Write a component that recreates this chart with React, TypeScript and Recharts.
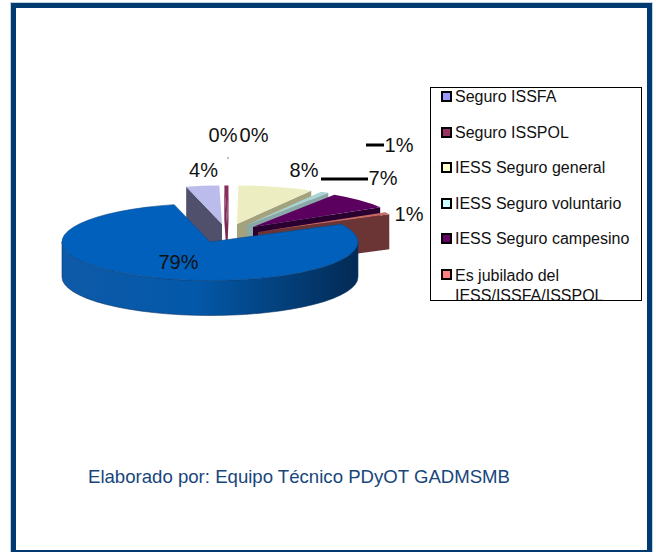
import React from 'react';
import { PieChart, Pie, Legend } from 'recharts';

const categories = [
  'Seguro ISSFA',
  'Seguro ISSPOL',
  'IESS Seguro general',
  'IESS Seguro voluntario',
  'IESS Seguro campesino',
  'Es jubilado del IESS/ISSFA/ISSPOL',
  'Otros',
  'Sin especificar',
];
const shares = [3.6, 0.45, 8.2, 0.9, 7.2, 0.9, 78.75, 0];

// legend swatches
const swatchColors = ['#9999ff', '#993366', '#ffffcc', '#ccffff', '#660066', '#ff8080', '#0066cc', '#ffffff'];
// shaded faces of the 3D look
const topColors = ['#bcbcec', '#8a2c5c', '#ecedc0', '#a8d4d4', '#5c0060', '#c46a60', '#0060bc', '#ffffff'];
const wallColors = ['#50506c', '#7a2a55', '#a3a27e', '#8aa8a8', '#2a0030', '#6b3535', '#0059ab', '#ffffff'];

// explosion of each slice, px from the pie centre
const explode = [
  [0, 2],
  [5, 2],
  [15, 2],
  [25, 3],
  [31, 5],
  [36, 10],
  [-12, 20],
  [0, 0],
];

const labelSpots = [
  [203.5, 170],
  [223, 135],
  [304, 170],
  [399, 145],
  [383, 178],
  [409, 214],
  [178.5, 262],
  [254, 135],
];
// leader lines: index -> x1, x2, y, thickness
const leaders: Record<number, number[]> = {
  1: [227.5, 228.5, 158, 1],
  3: [366, 384, 145, 3],
  4: [321, 368, 179, 3],
};

const data = categories.map((name, i) => ({ name, value: shares[i], fill: swatchColors[i], idx: i }));

const SQUASH = 38.5 / 148;
const DEPTH = 35;
const RAD = Math.PI / 180;

const FlatSlice = (props: any) => {
  const { cx, cy, outerRadius: rx, startAngle, endAngle } = props;
  const i = props.idx ?? props.payload?.idx ?? props.index;
  if (shares[i] === 0) return null;
  const [dx, dy] = explode[i];
  const ry = rx * SQUASH;
  const ox = cx + dx;
  const oy = cy + dy;
  const at = (a: number, drop = 0) => [ox + rx * Math.cos(a * RAD), oy - ry * Math.sin(a * RAD) + drop];
  const [sx, sy] = at(startAngle);
  const [ex, ey] = at(endAngle);
  const large = Math.abs(startAngle - endAngle) > 180 ? 1 : 0;
  const top = `M${ox},${oy} L${sx},${sy} A${rx},${ry} 0 ${large} 1 ${ex},${ey} Z`;
  const wall = (x: number, y: number) => `M${ox},${oy} L${x},${y} L${x},${y + DEPTH} L${ox},${oy + DEPTH} Z`;

  // the outer rim only shows on the front half of the ellipse
  const from = Math.min(startAngle, 0);
  const to = Math.max(endAngle, -180);
  let rim = null;
  if (from > to) {
    const [ax, ay] = at(from);
    const [bx, by] = at(to);
    const d = `M${ax},${ay} A${rx},${ry} 0 0 1 ${bx},${by} L${bx},${by + DEPTH} A${rx},${ry} 0 0 0 ${ax},${ay + DEPTH} Z`;
    rim = <path d={d} fill={`url(#rimShade)`} stroke="#0a3566" strokeWidth={0.6} />;
  }
  return (
    <g>
      <defs>
        <linearGradient id="rimShade" x1="0" y1="0" x2="1" y2="0">
          <stop offset="0%" stopColor="#0e5aa8" />
          <stop offset="45%" stopColor="#0358a9" />
          <stop offset="72%" stopColor="#03427f" />
          <stop offset="100%" stopColor="#032a55" />
        </linearGradient>
      </defs>
      {Math.cos(startAngle * RAD) < 0 && <path d={wall(sx, sy)} fill={wallColors[i]} />}
      {Math.cos(endAngle * RAD) > 0 && <path d={wall(ex, ey)} fill={wallColors[i]} />}
      {rim}
      <path d={top} fill={topColors[i]} stroke={i === 6 ? '#0a4a8c' : 'none'} strokeWidth={0.6} />
    </g>
  );
};

const renderLabel = (props: any) => {
  const { index, percent } = props;
  const [x, y] = labelSpots[index];
  const leader = leaders[index];
  return (
    <g key={index}>
      {leader && <line x1={leader[0]} x2={leader[1]} y1={leader[2]} y2={leader[2]} stroke="#000" strokeWidth={leader[3]} />}
      <text x={x} y={y} textAnchor="middle" dominantBaseline="central" fontSize={20} fill="#111" fontFamily="'Liberation Sans', Arial, sans-serif">
        {`${Math.round(percent * 100)}%`}
      </text>
    </g>
  );
};

const LegendBox = ({ payload }: any) => (
  <div
    style={{
      width: 212,
      height: 214,
      boxSizing: 'border-box',
      border: '1px solid #000',
      overflow: 'hidden',
      background: '#fff',
      fontFamily: "'Liberation Sans', Arial, sans-serif",
      fontSize: 16,
      lineHeight: '18px',
      color: '#111',
    }}
  >
    {(payload || []).slice(0, 6).map((entry: any, i: number) => (
      <div
        key={entry.value}
        style={{
          display: 'flex',
          alignItems: 'flex-start',
          marginBottom: 17.5,
          marginTop: i === 5 ? 1 : 0,
          paddingLeft: 10,
          lineHeight: i === 5 ? '20px' : '18px',
        }}
      >
        <span
          style={{
            width: 11,
            height: 11,
            boxSizing: 'border-box',
            border: '2px solid #000',
            background: swatchColors[i],
            marginTop: 3,
            marginRight: 3,
            flex: 'none',
          }}
        />
        <span>{entry.value}</span>
      </div>
    ))}
  </div>
);

export default function App() {
  return (
    <div style={{ position: 'absolute', left: 0, top: 0, width: 656, height: 552, overflow: 'hidden', background: '#fff' }}>
      <div
        style={{
          position: 'absolute',
          left: 11,
          top: 3,
          width: 641,
          height: 549,
          boxSizing: 'border-box',
          borderStyle: 'solid',
          borderColor: '#003a70',
          borderWidth: '5px 5px 2px 5px',
          boxShadow: '0 0 0 1px #c3d2e0',
        }}
      />
      <div style={{ position: 'absolute', left: 0, top: 0 }}>
        <PieChart width={656} height={552} margin={{ top: 0, right: 0, bottom: 0, left: 0 }}>
          <Pie
            data={data}
            dataKey="value"
            nameKey="name"
            cx={222}
            cy={222}
            outerRadius={148}
            startAngle={104}
            endAngle={-256}
            stroke="none"
            shape={FlatSlice}
            label={renderLabel}
            labelLine={false}
            isAnimationActive={false}
          />
          <Legend
            content={<LegendBox />}
            itemSorter={null}
            wrapperStyle={{ left: 430, top: 87, width: 212, height: 214, bottom: 'auto' }}
          />
        </PieChart>
      </div>
      <div
        style={{
          position: 'absolute',
          left: 88,
          top: 467,
          fontFamily: "'Liberation Sans', Arial, sans-serif",
          fontSize: 18.6,
          lineHeight: '20px',
          color: '#17467c',
          whiteSpace: 'nowrap',
        }}
      >
        Elaborado por: Equipo Técnico PDyOT GADMSMB
      </div>
    </div>
  );
}
